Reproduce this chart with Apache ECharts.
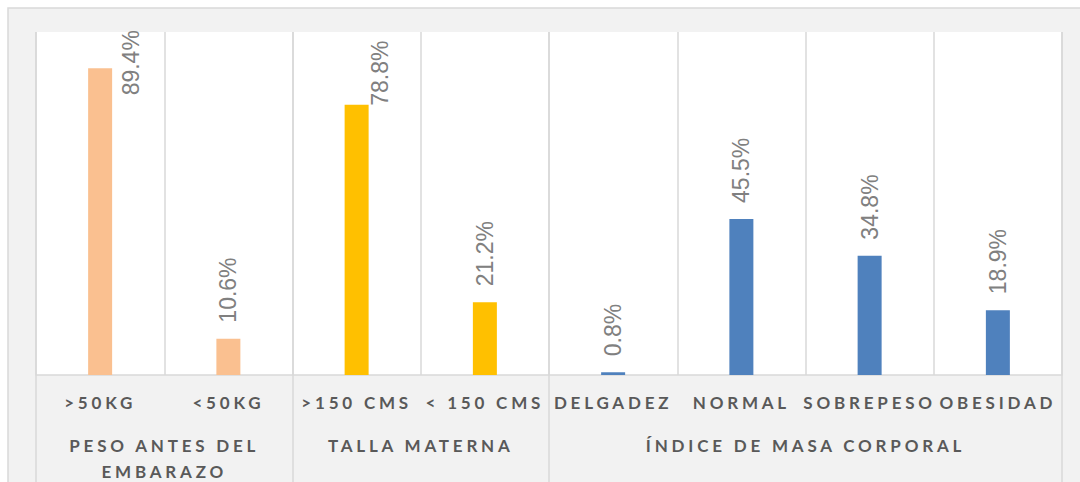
<!DOCTYPE html>
<html>
<head>
<meta charset="utf-8">
<script src="https://cdn.jsdelivr.net/npm/echarts@6/dist/echarts.min.js"></script>
<style>
html, body { margin: 0; padding: 0; background: #ffffff; }
#chart { width: 1080px; height: 482px; }
#chart svg text[fill="#595959"] { letter-spacing: 3.8px; }
</style>
</head>
<body>
<div id="chart"></div>
<script>
// ---- data ----
const categories = ['>50KG', '<50KG', '>150 CMS', '< 150 CMS', 'DELGADEZ', 'NORMAL', 'SOBREPESO', 'OBESIDAD'];
const values = [89.4, 10.6, 78.8, 21.2, 0.8, 45.5, 34.8, 18.9];
const groupNames = ['PESO ANTES DEL\nEMBARAZO', 'TALLA MATERNA', 'ÍNDICE DE MASA CORPORAL'];
const groupOfCategory = [0, 0, 1, 1, 2, 2, 2, 2];

// ---- styles ----
const groupColors = ['#FAC090', '#FFC000', '#4F81BD'];
const lineColor = '#d9d9d9';

// group extents in category units, derived from membership
const groupStart = [], groupEnd = [];
groupOfCategory.forEach((g, i) => {
  if (groupStart[g] === undefined) groupStart[g] = i;
  groupEnd[g] = i + 1;
});
const groupCenters = groupStart.map((s, g) => (s + groupEnd[g]) / 2);
const groupBounds = [0].concat(groupEnd);

// label placement tweaks for labels that hit the top of the plot
const labelOverrides = {
  0: { position: [43, 27] },
  2: { position: [35, 1] }
};

const chart = echarts.init(document.getElementById('chart'), null, { renderer: 'svg' });

const barData = values.map((v, i) => {
  const item = { value: v };
  if (labelOverrides[i]) item.label = labelOverrides[i];
  return item;
});

chart.setOption({
  animation: false,
  backgroundColor: 'transparent',
  graphic: [{
    type: 'rect',
    z: -10,
    silent: true,
    shape: { x: 8, y: 8, width: 1200, height: 600 },
    style: { fill: '#f2f2f2', stroke: lineColor, lineWidth: 1.5 }
  }],
  grid: {
    left: 36, right: 18, top: 32, bottom: 107,
    outerBoundsMode: 'none',
    containLabel: false,
    show: true, backgroundColor: '#ffffff', borderWidth: 0
  },
  xAxis: [{
    type: 'category',
    data: categories,
    boundaryGap: true,
    axisLine: { show: true, lineStyle: { color: lineColor, width: 1.5 } },
    axisTick: { show: false },
    splitLine: { show: true, interval: 0, lineStyle: { color: lineColor, width: 1.5 } },
    axisLabel: {
      interval: 0,
      margin: 19,
      color: '#595959',
      fontFamily: 'Lato',
      fontWeight: 'bold',
      fontSize: 17
    }
  }, {
    type: 'value',
    min: 0,
    max: categories.length,
    interval: 1,
    position: 'bottom',
    axisLine: { show: false },
    axisTick: {
      show: true,
      inside: false,
      length: 110,
      customValues: groupBounds,
      lineStyle: { color: lineColor, width: 1.5 }
    },
    splitLine: { show: true, lineStyle: { color: lineColor, width: 1.5 } },
    axisLabel: {
      customValues: groupCenters,
      margin: 57,
      color: '#595959',
      fontFamily: 'Lato',
      fontWeight: 'bold',
      fontSize: 17,
      lineHeight: 26,
      formatter: (v) => {
        const g = groupCenters.indexOf(v);
        return g >= 0 ? groupNames[g] : '';
      }
    }
  }],
  yAxis: {
    type: 'value',
    min: 0,
    max: 100,
    show: false,
    splitLine: { show: false }
  },
  series: [{
    type: 'bar',
    xAxisIndex: 0,
    data: barData,
    barWidth: 24,
    itemStyle: {
      color: (p) => groupColors[groupOfCategory[p.dataIndex]]
    },
    label: {
      show: true,
      position: 'top',
      distance: 16,
      rotate: 90,
      align: 'left',
      verticalAlign: 'middle',
      color: '#808080',
      fontFamily: '"Liberation Sans Narrow", "Liberation Sans", sans-serif',
      fontSize: 23,
      formatter: (p) => p.value.toFixed(1) + '%'
    }
  }]
});
</script>
</body>
</html>
